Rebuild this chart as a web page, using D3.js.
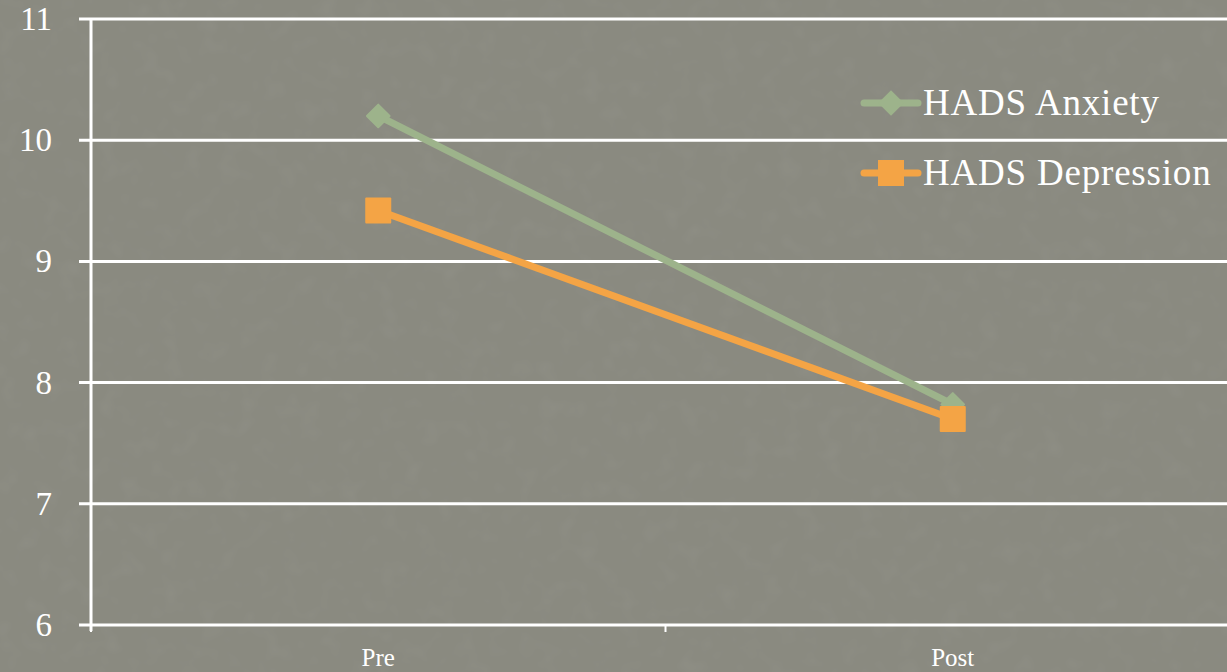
<!DOCTYPE html>
<html>
<head>
<meta charset="utf-8">
<script src="https://cdn.jsdelivr.net/npm/d3@7"></script>
<style>
  html, body { margin: 0; padding: 0; background: #8a8a80; overflow: hidden; }
  svg { display: block; }
  text { font-family: "Liberation Serif", "DejaVu Serif", serif; fill: #ffffff; }
</style>
</head>
<body>
<svg id="chart" width="1227" height="672"></svg>
<script>
// Mean HADS scores before and after the programme
const categories = ["Pre", "Post"];
const anxiety = [10.2, 7.82];
const depression = [9.42, 7.7];
const yTicks = [6, 7, 8, 9, 10, 11];
const seriesNames = ["HADS Anxiety", "HADS Depression"];

const W = 1227, H = 672;
const svg = d3.select("#chart");

// textured slide background
const defs = svg.append("defs");
const f = defs.append("filter").attr("id", "grain").attr("x", 0).attr("y", 0).attr("width", 1).attr("height", 1);
f.append("feTurbulence").attr("type", "fractalNoise").attr("baseFrequency", "0.05").attr("numOctaves", 2).attr("seed", 7).attr("result", "n");
f.append("feColorMatrix").attr("in", "n").attr("type", "matrix")
  .attr("values", "0 0 0 0 0.33  0 0 0 0 0.33  0 0 0 0 0.30  0.9 0 0 0 -0.38")
  .attr("result", "m");
f.append("feComposite").attr("in", "m").attr("in2", "SourceGraphic").attr("operator", "over");
svg.append("rect").attr("width", W).attr("height", H).attr("fill", "#8a8a80");
svg.append("rect").attr("width", W).attr("height", H).attr("fill", "#8a8a80").attr("filter", "url(#grain)").attr("opacity", 0.45);

const x = d3.scaleBand().domain(categories).range([91, 1240]);
const y = d3.scaleLinear().domain([6, 11]).range([625, 19]);

// horizontal gridlines and y labels
const g = svg.append("g");
g.selectAll("line.grid").data(yTicks).join("line")
  .attr("x1", 79).attr("x2", W)
  .attr("y1", d => y(d)).attr("y2", d => y(d))
  .attr("stroke", "#ffffff").attr("stroke-width", 3);
g.selectAll("text.ylab").data(yTicks).join("text")
  .attr("x", 52).attr("y", d => y(d) + 11)
  .attr("text-anchor", "end")
  .attr("font-size", 33)
  .text(d => d);

// y axis line
g.append("line").attr("x1", 91).attr("x2", 91).attr("y1", y(11)).attr("y2", y(6) + 6)
  .attr("stroke", "#ffffff").attr("stroke-width", 3);

// category ticks
const catTicks = [x.range()[0], x("Post"), x.range()[1]];
g.selectAll("line.ctick").data(catTicks).join("line")
  .attr("x1", d => d).attr("x2", d => d)
  .attr("y1", y(6)).attr("y2", y(6) + 7)
  .attr("stroke", "#ffffff").attr("stroke-width", 2);

g.selectAll("text.xlab").data(categories).join("text")
  .attr("x", d => x(d) + x.bandwidth() / 2)
  .attr("y", 666)
  .attr("text-anchor", "middle")
  .attr("font-size", 25)
  .text(d => d);

const cx = d => x(d) + x.bandwidth() / 2;
const line = d3.line().x(d => cx(d.c)).y(d => y(d.v));

const green = "#9db38b", orange = "#f4a445";
const aData = categories.map((c, i) => ({ c, v: anxiety[i] }));
const dData = categories.map((c, i) => ({ c, v: depression[i] }));

svg.append("path").datum(aData).attr("d", line)
  .attr("fill", "none").attr("stroke", green).attr("stroke-width", 7).attr("stroke-linejoin", "round");
svg.selectAll("rect.amark").data(aData).join("rect")
  .attr("x", -9).attr("y", -9).attr("width", 18).attr("height", 18)
  .attr("rx", 1)
  .attr("transform", d => `translate(${cx(d.c)},${y(d.v)}) rotate(45)`)
  .attr("fill", green);

svg.append("path").datum(dData).attr("d", line)
  .attr("fill", "none").attr("stroke", orange).attr("stroke-width", 7).attr("stroke-linejoin", "round");
svg.selectAll("rect.dmark").data(dData).join("rect")
  .attr("x", d => cx(d.c) - 13).attr("y", d => y(d.v) - 13)
  .attr("width", 26).attr("height", 26).attr("rx", 1)
  .attr("fill", orange);

// legend
const leg = svg.append("g");
const legY = [103, 173];
const legColors = [green, orange];
seriesNames.forEach((name, i) => {
  const ly = legY[i];
  leg.append("line").attr("x1", 864).attr("x2", 918).attr("y1", ly).attr("y2", ly)
    .attr("stroke", legColors[i]).attr("stroke-width", 7).attr("stroke-linecap", "round");
  if (i === 0) {
    leg.append("rect").attr("x", -9).attr("y", -9).attr("width", 18).attr("height", 18)
      .attr("transform", `translate(891,${ly}) rotate(45)`).attr("fill", green);
  } else {
    leg.append("rect").attr("x", 878).attr("y", ly - 13).attr("width", 26).attr("height", 26).attr("fill", orange);
  }
  leg.append("text").attr("x", 923).attr("y", ly + 12).attr("font-size", 37)
    .attr("letter-spacing", 0.8).text(name);
});
</script>
</body>
</html>
